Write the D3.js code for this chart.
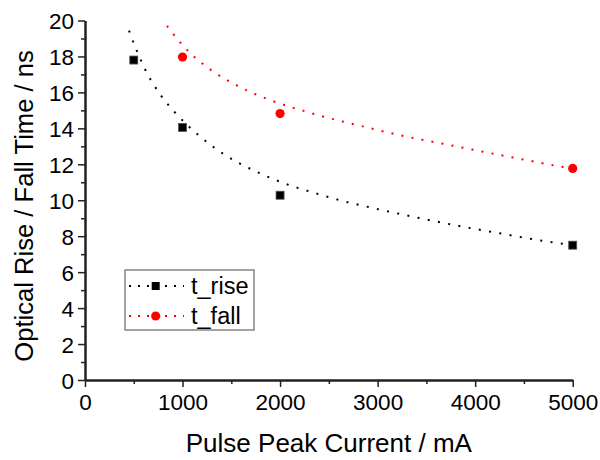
<!DOCTYPE html>
<html lang="en">
<head>
<meta charset="UTF-8">
<title>Rise / Fall Time</title>
<script src="https://d3js.org/d3.v7.min.js"></script>
<style>
    body { margin: 0; background: #fff; }
    svg { display: block; font-family: "Liberation Sans", Arial, sans-serif; }
</style>
</head>
<body>
<svg width="600" height="460"></svg>
<script>
    // measured points
    const riseX = [500, 1000, 2000, 5000];
    const riseY = [17.8, 14.05, 10.28, 7.5];
    const fallX = [1000, 2000, 5000];
    const fallY = [17.97, 14.82, 11.77];

    // fit curves
    const riseFitX = [451, 530, 618, 785, 925, 1161, 1424, 1714, 2015, 2431, 2538, 2958, 3384, 3814, 4242, 4778, 5000];
    const riseFitY = [19.44, 18.33, 17.26, 15.78, 14.87, 13.63, 12.56, 11.70, 11.0, 10.28, 10.11, 9.56, 9.06, 8.59, 8.17, 7.67, 7.5];
    const fallFitX = [840, 1048, 1304, 1588, 1889, 2199, 2510, 2831, 3254, 3681, 4109, 4539, 4857, 5000];
    const fallFitY = [19.7, 18.35, 17.2, 16.3, 15.59, 15.04, 14.56, 14.13, 13.59, 13.13, 12.67, 12.22, 11.89, 11.77];

    const xTicks = [0, 1000, 2000, 3000, 4000, 5000];
    const yTicks = [0, 2, 4, 6, 8, 10, 12, 14, 16, 18, 20];

    const svg = d3.select("svg");
    const mLeft = 85, mRight = 572.7, mTop = 20.5, mBottom = 380;

    const x = d3.scaleLinear().domain([0, 5000]).range([mLeft, mRight]);
    const y = d3.scaleLinear().domain([0, 20]).range([mBottom, mTop]);

    // axes
    const xAxis = svg.append("g").attr("transform", `translate(0,${mBottom})`)
        .call(d3.axisBottom(x).tickValues(xTicks).tickFormat(d3.format("d"))
            .tickSize(7).tickPadding(6).tickSizeOuter(0));
    const xMinor = svg.append("g").attr("transform", `translate(0,${mBottom})`)
        .call(d3.axisBottom(x).tickValues(d3.range(500, 5000, 1000)).tickSize(4).tickFormat("").tickSizeOuter(0));
    const yAxis = svg.append("g").attr("transform", `translate(${mLeft},0)`)
        .call(d3.axisLeft(y).tickValues(yTicks).tickFormat(d3.format("d"))
            .tickSize(7).tickPadding(4).tickSizeOuter(0));
    const yMinor = svg.append("g").attr("transform", `translate(${mLeft},0)`)
        .call(d3.axisLeft(y).tickValues(d3.range(1, 20, 2)).tickSize(4).tickFormat("").tickSizeOuter(0));

    [xAxis, xMinor, yAxis, yMinor].forEach(g => {
        g.select(".domain").attr("stroke", "#222").attr("stroke-width", 2);
        g.selectAll(".tick line").attr("stroke", "#222").attr("stroke-width", 1.5);
        g.selectAll(".tick text").attr("fill", "#000").style("font-size", "22.5px")
            .style("font-family", "'Liberation Sans', Arial, sans-serif");
    });
    xAxis.selectAll(".tick text").attr("dy", "0.75em");
    yAxis.selectAll(".tick text").attr("dy", "0.36em");

    // axis titles
    svg.append("text").attr("x", (mLeft + mRight) / 2).attr("y", 452)
        .attr("text-anchor", "middle").style("font-size", "26px")
        .text("Pulse Peak Current / mA");
    svg.append("text").attr("transform", "translate(33,206) rotate(-90)")
        .attr("text-anchor", "middle").style("font-size", "25.6px")
        .text("Optical Rise / Fall Time / ns");

    // fit lines
    const line = d3.line().x(d => x(d[0])).y(d => y(d[1])).curve(d3.curveMonotoneX);
    svg.append("path").datum(d3.zip(riseFitX, riseFitY)).attr("d", line)
        .attr("fill", "none").attr("stroke", "#000").attr("stroke-width", 2)
        .attr("stroke-dasharray", "2 8.4");
    svg.append("path").datum(d3.zip(fallFitX, fallFitY)).attr("d", line)
        .attr("fill", "none").attr("stroke", "#ff0000").attr("stroke-width", 2)
        .attr("stroke-dasharray", "2 8.2");

    // markers
    svg.append("g").selectAll("rect").data(d3.zip(riseX, riseY)).join("rect")
        .attr("x", d => x(d[0]) - 4).attr("y", d => y(d[1]) - 4)
        .attr("width", 8).attr("height", 8)
        .attr("fill", "#000").attr("stroke", "#555").attr("stroke-width", 0.8);
    svg.append("g").selectAll("circle").data(d3.zip(fallX, fallY)).join("circle")
        .attr("cx", d => x(d[0])).attr("cy", d => y(d[1])).attr("r", 4.6)
        .attr("fill", "#ff0000");

    // legend
    const lg = svg.append("g");
    lg.append("rect").attr("x", 125).attr("y", 270).attr("width", 129).attr("height", 60)
        .attr("fill", "#fff").attr("stroke", "#666").attr("stroke-width", 1.2);
    const entries = [
        { name: "t_rise", color: "#000", shape: "square", cy: 286 },
        { name: "t_fall", color: "#ff0000", shape: "circle", cy: 316 }
    ];
    entries.forEach(e => {
        lg.append("line").attr("x1", 129).attr("x2", 184).attr("y1", e.cy).attr("y2", e.cy)
            .attr("stroke", e.color).attr("stroke-width", 2).attr("stroke-dasharray", "2 7");
        if (e.shape === "square") {
            lg.append("rect").attr("x", 151.7).attr("y", e.cy - 4).attr("width", 8).attr("height", 8)
                .attr("fill", e.color);
        } else {
            lg.append("circle").attr("cx", 155.7).attr("cy", e.cy).attr("r", 4.6).attr("fill", e.color);
        }
        lg.append("text").attr("x", 191).attr("y", e.cy).attr("dy", "0.35em")
            .style("font-size", "23.5px").text(e.name);
    });
</script>
</body>
</html>
